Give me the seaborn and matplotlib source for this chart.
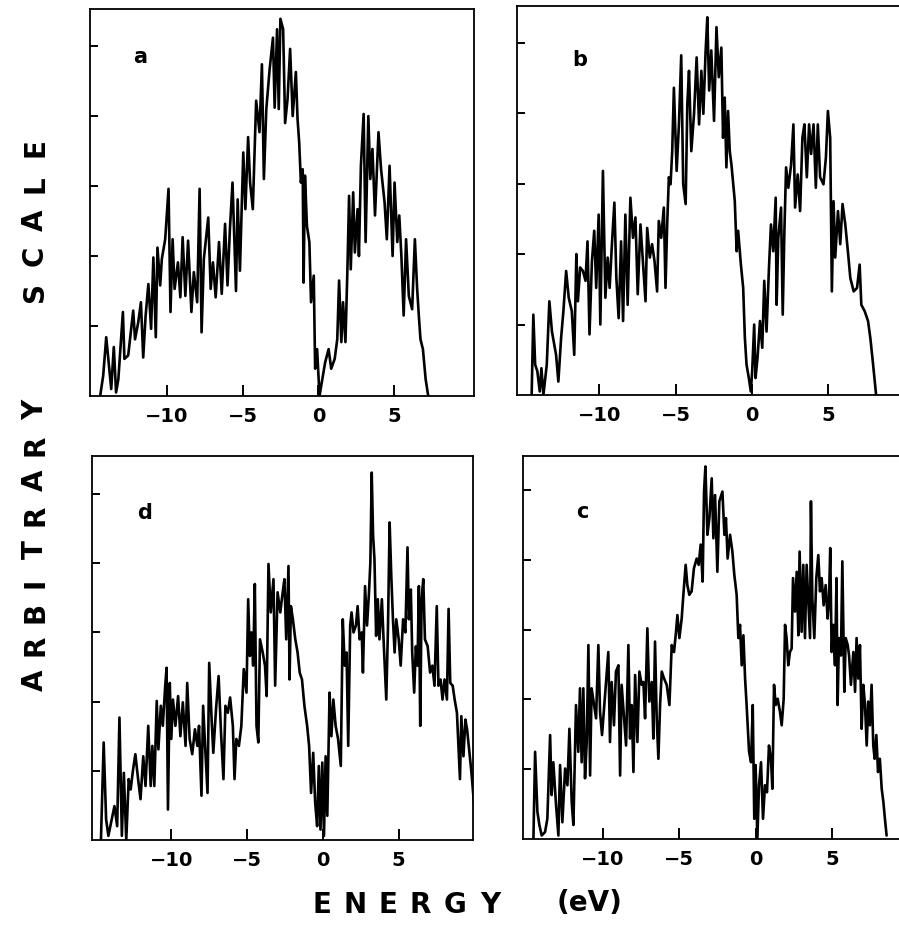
import matplotlib
matplotlib.use("Agg")
import matplotlib.pyplot as plt
import seaborn as sns

sns.set_style("ticks")
plt.rcParams["font.family"] = ["DejaVu Sans"]
plt.rcParams.update({"text.color": "black", "axes.edgecolor": "black",
                     "xtick.color": "black", "ytick.color": "black",
                     "axes.labelcolor": "black"})

# Density of states traces: (energy in eV, intensity in arbitrary units)
trace_a = [(-14.4, 0), (-14.2, 0.29), (-14.0, 0.84), (-13.8, 0.39), (-13.67, 0.1), (-13.5, 0.7),
           (-13.35, 0.05), (-13.2, 0.24), (-12.9, 1.2), (-12.8, 0.53), (-12.55, 0.58), (-12.22, 1.22),
           (-12.1, 0.81), (-11.89, 1.05), (-11.71, 1.34), (-11.56, 0.55), (-11.4, 1.15), (-11.22, 1.6),
           (-11.04, 0.96), (-10.89, 1.98), (-10.73, 0.84), (-10.62, 2.12), (-10.44, 1.58), (-10.33, 1.96),
           (-10.11, 2.24), (-9.89, 2.96), (-9.76, 1.2), (-9.62, 2.24), (-9.49, 1.53), (-9.27, 1.91),
           (-9.11, 1.41), (-8.96, 2.27), (-8.78, 1.43), (-8.6, 2.22), (-8.38, 1.2), (-8.22, 1.77),
           (-8.0, 1.34), (-7.84, 2.96), (-7.71, 0.91), (-7.56, 1.96), (-7.27, 2.55), (-7.11, 1.53),
           (-6.96, 1.91), (-6.78, 1.41), (-6.56, 2.2), (-6.38, 1.46), (-6.16, 2.46), (-6.0, 1.58),
           (-5.84, 2.39), (-5.67, 3.05), (-5.44, 1.5), (-5.33, 2.81), (-5.18, 1.79), (-4.96, 3.48),
           (-4.82, 2.67), (-4.64, 3.7), (-4.51, 3.05), (-4.33, 2.67), (-4.11, 4.22), (-3.89, 3.77),
           (-3.73, 4.74), (-3.6, 3.1), (-3.44, 4.1), (-3.22, 4.67), (-3.0, 5.12), (-2.89, 4.12),
           (-2.73, 5.24), (-2.62, 4.1), (-2.51, 5.39), (-2.33, 5.24), (-2.2, 3.9), (-2.04, 4.24),
           (-1.87, 4.96), (-1.7, 4.0), (-1.49, 4.63), (-1.38, 3.96), (-1.27, 3.62), (-1.16, 3.05),
           (-1.04, 3.24), (-0.98, 1.62), (-0.89, 3.15), (-0.76, 2.43), (-0.6, 2.2), (-0.49, 1.34),
           (-0.31, 1.72), (-0.22, 0.39), (-0.09, 0.67), (0.07, 0), (0.29, 0.29), (0.44, 0.48),
           (0.67, 0.67), (0.84, 0.39), (1.07, 0.53), (1.24, 0.81), (1.36, 1.65), (1.51, 0.77),
           (1.62, 1.34), (1.78, 0.77), (1.91, 1.81), (2.02, 2.86), (2.13, 1.81), (2.29, 2.91),
           (2.4, 2.05), (2.58, 2.67), (2.67, 2.0), (2.8, 3.29), (2.98, 4.03), (3.11, 2.2),
           (3.29, 4.0), (3.42, 3.1), (3.56, 3.53), (3.73, 2.58), (3.96, 3.77), (4.13, 3.24),
           (4.36, 2.77), (4.51, 2.24), (4.69, 3.29), (4.89, 2.0), (5.02, 3.05), (5.2, 2.2),
           (5.33, 2.58), (5.47, 2.0), (5.62, 1.15), (5.78, 2.24), (5.96, 1.43), (6.18, 1.24),
           (6.36, 2.24), (6.51, 1.53), (6.62, 1.15), (6.73, 0.81), (6.89, 0.67), (7.07, 0.24),
           (7.24, 0)]

trace_b = [(-14.43, 0), (-14.32, 1.14), (-14.2, 0.43), (-14.06, 0.34), (-13.9, 0.05), (-13.79, 0.38),
           (-13.66, 0), (-13.44, 0.43), (-13.27, 1.33), (-13.1, 0.9), (-12.83, 0.57), (-12.68, 0.19),
           (-12.5, 0.81), (-12.35, 1.19), (-12.17, 1.76), (-12.0, 1.38), (-11.8, 1.19), (-11.64, 0.57),
           (-11.5, 2.0), (-11.4, 1.33), (-11.25, 1.81), (-11.07, 1.76), (-10.9, 1.62), (-10.77, 2.18),
           (-10.64, 0.86), (-10.48, 1.9), (-10.33, 2.33), (-10.2, 1.52), (-10.04, 2.56), (-9.93, 1.0),
           (-9.76, 3.18), (-9.6, 1.38), (-9.45, 1.95), (-9.32, 1.52), (-9.17, 2.14), (-9.01, 2.73),
           (-8.88, 1.66), (-8.73, 1.09), (-8.57, 2.18), (-8.44, 1.05), (-8.29, 2.56), (-8.14, 1.28),
           (-7.96, 2.8), (-7.79, 2.23), (-7.63, 2.52), (-7.48, 1.43), (-7.3, 2.42), (-7.13, 1.85),
           (-6.97, 1.33), (-6.86, 2.37), (-6.69, 1.95), (-6.54, 2.14), (-6.38, 1.9), (-6.21, 1.47),
           (-6.1, 2.47), (-5.94, 2.23), (-5.77, 2.66), (-5.66, 1.52), (-5.55, 2.42), (-5.44, 3.09),
           (-5.33, 2.99), (-5.22, 3.46), (-5.11, 4.36), (-4.93, 3.18), (-4.78, 3.84), (-4.63, 4.82),
           (-4.5, 2.99), (-4.34, 2.71), (-4.23, 4.13), (-4.12, 4.6), (-3.97, 3.46), (-3.79, 3.99),
           (-3.62, 4.79), (-3.46, 3.84), (-3.31, 4.6), (-3.18, 3.99), (-3.03, 4.89), (-2.92, 5.36),
           (-2.8, 4.32), (-2.66, 4.89), (-2.48, 3.89), (-2.32, 5.22), (-2.17, 4.51), (-2.0, 4.93),
           (-1.89, 3.65), (-1.78, 4.22), (-1.67, 3.23), (-1.56, 4.03), (-1.45, 3.46), (-1.34, 3.27),
           (-1.12, 2.75), (-1.0, 2.04), (-0.9, 2.33), (-0.72, 1.85), (-0.57, 1.52), (-0.46, 0.81),
           (-0.35, 0.43), (-0.2, 0.24), (-0.07, 0.05), (0.02, 0.34), (0.15, 1.0), (0.24, 0.24),
           (0.37, 0.53), (0.53, 1.05), (0.68, 0.67), (0.81, 1.62), (0.96, 0.9), (1.12, 1.81),
           (1.25, 2.42), (1.4, 2.04), (1.56, 2.8), (1.62, 1.28), (1.73, 2.23), (1.91, 2.66),
           (2.02, 1.14), (2.13, 2.33), (2.24, 3.23), (2.39, 2.94), (2.57, 3.27), (2.72, 3.84),
           (2.83, 2.66), (3.0, 3.13), (3.16, 2.61), (3.31, 3.65), (3.44, 3.84), (3.6, 3.09),
           (3.75, 3.84), (3.88, 3.42), (4.04, 3.84), (4.19, 2.94), (4.32, 3.84), (4.47, 3.09),
           (4.69, 2.99), (4.85, 3.37), (4.98, 4.03), (5.13, 3.65), (5.24, 1.47), (5.35, 2.75),
           (5.46, 1.95), (5.64, 2.61), (5.79, 2.14), (5.94, 2.71), (6.12, 2.42), (6.29, 2.04),
           (6.45, 1.66), (6.67, 1.47), (6.89, 1.52), (7.06, 1.85), (7.17, 1.28), (7.39, 1.19),
           (7.61, 1.05), (7.76, 0.81), (7.92, 0.48), (8.05, 0.19), (8.14, 0)]

trace_c = [(-14.52, 0), (-14.41, 1.25), (-14.26, 0.39), (-14.13, 0.2), (-13.98, 0.05), (-13.76, 0.1),
           (-13.61, 0.29), (-13.43, 1.49), (-13.33, 0.63), (-13.22, 1.1), (-13.04, 0.48), (-12.89, 0.05),
           (-12.78, 1.06), (-12.63, 0.24), (-12.45, 1.01), (-12.3, 0.77), (-12.17, 1.58), (-12.02, 0.53),
           (-11.91, 0.2), (-11.74, 1.92), (-11.59, 1.25), (-11.48, 2.16), (-11.37, 1.1), (-11.26, 2.16),
           (-11.15, 0.87), (-11.04, 1.39), (-10.93, 2.78), (-10.82, 0.91), (-10.72, 2.16), (-10.56, 1.92),
           (-10.43, 1.73), (-10.28, 2.78), (-10.17, 1.82), (-10.04, 1.49), (-9.89, 1.92), (-9.74, 2.35),
           (-9.63, 2.68), (-9.52, 1.39), (-9.41, 2.25), (-9.26, 1.63), (-9.13, 2.4), (-8.97, 2.49),
           (-8.86, 0.91), (-8.76, 2.21), (-8.6, 1.73), (-8.47, 1.34), (-8.32, 2.78), (-8.21, 1.44),
           (-8.1, 1.92), (-7.99, 0.96), (-7.88, 2.35), (-7.73, 1.39), (-7.6, 2.4), (-7.45, 2.21),
           (-7.34, 2.25), (-7.23, 1.73), (-7.08, 3.02), (-6.95, 1.97), (-6.79, 2.25), (-6.69, 1.44),
           (-6.58, 2.83), (-6.47, 1.73), (-6.36, 1.15), (-6.25, 1.92), (-6.14, 2.4), (-5.99, 2.3),
           (-5.82, 2.21), (-5.64, 1.92), (-5.49, 2.78), (-5.34, 2.68), (-5.21, 2.97), (-5.12, 3.21),
           (-4.99, 2.88), (-4.84, 3.16), (-4.73, 3.5), (-4.58, 3.93), (-4.47, 3.64), (-4.34, 3.5),
           (-4.19, 3.55), (-4.04, 3.88), (-3.86, 4.02), (-3.73, 3.93), (-3.6, 4.22), (-3.47, 3.69),
           (-3.38, 4.98), (-3.29, 5.34), (-3.16, 4.36), (-3.03, 4.6), (-2.88, 5.17), (-2.77, 4.31),
           (-2.66, 4.93), (-2.51, 3.83), (-2.38, 4.84), (-2.18, 4.98), (-2.05, 4.36), (-1.95, 4.6),
           (-1.84, 4.02), (-1.68, 4.36), (-1.53, 4.12), (-1.4, 3.78), (-1.25, 3.5), (-1.14, 2.88),
           (-1.03, 3.07), (-0.92, 2.49), (-0.81, 2.92), (-0.7, 2.3), (-0.6, 1.92), (-0.44, 1.25),
           (-0.31, 1.1), (-0.2, 1.92), (-0.1, 0.29), (-0.01, 1.06), (0.1, 0), (0.21, 0.77),
           (0.34, 1.1), (0.47, 0.29), (0.6, 0.77), (0.73, 0.67), (0.86, 1.34), (0.99, 1.15),
           (1.08, 0.72), (1.19, 2.21), (1.3, 1.92), (1.43, 2.01), (1.58, 1.82), (1.69, 1.63),
           (1.82, 2.01), (1.91, 3.07), (2.01, 2.88), (2.12, 2.49), (2.23, 2.68), (2.34, 2.73),
           (2.43, 3.74), (2.56, 3.26), (2.67, 3.83), (2.78, 2.92), (2.86, 4.12), (2.99, 2.97),
           (3.1, 3.93), (3.21, 2.88), (3.32, 3.93), (3.43, 3.4), (3.54, 2.88), (3.6, 4.84),
           (3.69, 3.45), (3.82, 2.88), (3.95, 3.74), (4.08, 4.07), (4.19, 3.55), (4.3, 3.74),
           (4.43, 3.35), (4.56, 3.64), (4.69, 3.16), (4.78, 3.45), (4.86, 4.17), (4.95, 2.68),
           (5.06, 3.07), (5.17, 2.49), (5.27, 3.74), (5.34, 1.92), (5.43, 2.88), (5.56, 2.63),
           (5.65, 3.98), (5.78, 2.11), (5.87, 2.88), (6.0, 2.78), (6.09, 2.63), (6.21, 2.21),
           (6.37, 2.68), (6.48, 2.11), (6.58, 2.88), (6.69, 2.3), (6.8, 2.78), (6.91, 1.58),
           (7.02, 2.21), (7.13, 1.92), (7.24, 1.34), (7.34, 1.97), (7.45, 1.63), (7.56, 2.21),
           (7.67, 1.34), (7.76, 1.15), (7.87, 1.49), (7.98, 0.96), (8.1, 1.15), (8.22, 0.72),
           (8.33, 0.53), (8.43, 0.29), (8.54, 0.05)]

trace_d = [(-14.64, 0), (-14.46, 1.41), (-14.3, 0.3), (-14.15, 0.06), (-13.97, 0.25), (-13.75, 0.49),
           (-13.57, 0.2), (-13.42, 1.77), (-13.26, 0.06), (-13.13, 0.97), (-12.97, 0), (-12.81, 0.88),
           (-12.68, 0.73), (-12.52, 1.02), (-12.37, 1.24), (-12.19, 0.88), (-12.03, 0.59), (-11.85, 1.21),
           (-11.7, 0.78), (-11.52, 1.65), (-11.36, 0.78), (-11.25, 1.36), (-11.12, 0.78), (-10.96, 2.01),
           (-10.85, 1.31), (-10.69, 1.94), (-10.56, 1.65), (-10.4, 2.23), (-10.31, 2.49), (-10.22, 0.44),
           (-10.1, 2.27), (-10.0, 1.46), (-9.89, 2.03), (-9.73, 1.65), (-9.55, 2.08), (-9.4, 1.5),
           (-9.24, 1.99), (-9.06, 1.36), (-8.95, 2.27), (-8.79, 1.46), (-8.62, 1.24), (-8.44, 1.6),
           (-8.28, 1.36), (-8.17, 1.65), (-8.01, 0.64), (-7.9, 1.94), (-7.77, 1.36), (-7.61, 0.68),
           (-7.5, 2.56), (-7.34, 1.74), (-7.23, 1.26), (-7.05, 1.89), (-6.88, 2.37), (-6.72, 1.55),
           (-6.56, 0.88), (-6.43, 1.94), (-6.27, 1.84), (-6.12, 2.06), (-5.94, 1.65), (-5.83, 0.88),
           (-5.71, 1.46), (-5.54, 1.36), (-5.38, 1.65), (-5.22, 2.47), (-5.04, 2.13), (-4.93, 3.48),
           (-4.82, 2.66), (-4.71, 3.0), (-4.6, 2.52), (-4.49, 3.7), (-4.38, 1.65), (-4.26, 1.41),
           (-4.15, 2.9), (-3.97, 2.71), (-3.82, 2.52), (-3.71, 2.08), (-3.59, 3.99), (-3.44, 3.29),
           (-3.26, 3.77), (-3.15, 2.23), (-2.99, 3.58), (-2.81, 3.29), (-2.68, 3.53), (-2.54, 3.77),
           (-2.42, 2.9), (-2.27, 3.96), (-2.2, 2.32), (-2.11, 3.38), (-1.98, 3.19), (-1.82, 2.9),
           (-1.67, 2.71), (-1.53, 2.42), (-1.38, 2.32), (-1.22, 1.94), (-1.04, 1.65), (-0.91, 1.36),
           (-0.78, 0.68), (-0.64, 1.26), (-0.51, 0.54), (-0.38, 0.2), (-0.27, 1.07), (-0.16, 0.15),
           (-0.04, 1.12), (0.07, 0.06), (0.18, 1.21), (0.29, 0.35), (0.44, 2.13), (0.56, 1.5),
           (0.69, 2.03), (0.84, 1.65), (1.0, 1.46), (1.18, 1.07), (1.31, 3.19), (1.44, 2.52),
           (1.56, 2.71), (1.67, 1.36), (1.8, 3.1), (1.89, 3.29), (2.02, 3.0), (2.18, 3.1),
           (2.29, 3.38), (2.42, 2.9), (2.56, 3.0), (2.64, 2.42), (2.78, 3.67), (2.91, 3.1),
           (3.04, 3.58), (3.13, 4.01), (3.22, 5.31), (3.31, 4.4), (3.4, 4.06), (3.51, 2.95),
           (3.62, 3.48), (3.73, 2.9), (3.89, 3.48), (4.02, 2.8), (4.18, 2.03), (4.29, 3.05),
           (4.4, 4.59), (4.51, 3.82), (4.62, 3.19), (4.73, 2.71), (4.84, 3.19), (5.0, 2.9),
           (5.13, 2.52), (5.29, 3.19), (5.44, 3.0), (5.58, 4.23), (5.67, 3.19), (5.8, 3.62),
           (5.89, 2.71), (6.02, 2.13), (6.13, 2.8), (6.24, 2.52), (6.33, 3.67), (6.42, 1.65),
           (6.51, 3.48), (6.62, 3.77), (6.73, 2.9), (6.91, 2.8), (7.07, 2.42), (7.22, 2.52),
           (7.36, 2.23), (7.51, 3.38), (7.62, 2.23), (7.76, 2.32), (7.89, 2.03), (8.02, 2.32),
           (8.18, 2.03), (8.29, 3.34), (8.4, 2.27), (8.56, 2.23), (8.69, 2.03), (8.84, 1.84),
           (8.96, 1.26), (9.04, 0.88), (9.13, 1.79), (9.27, 1.21), (9.4, 1.74), (9.51, 1.6),
           (9.62, 1.36), (9.8, 0.97), (9.96, 0.54)]

energy_ticks = [-10, -5, 0, 5]
energy_tick_labels = ["\u221210", "\u22125", "0", "5"]
intensity_ticks = [1, 2, 3, 4, 5]

W, H = 899, 929
fig = plt.figure(figsize=(W / 100, H / 100), dpi=100)

# panel: (trace, letter, pixel box left/right/top/bottom, x-limits, y-top)
panels = [
    (trace_a, "a", (90, 474, 10, 397), (-15.07, 10.26), 5.53),
    (trace_b, "b", (517, 901, 7, 396), (-15.39, 9.77), 5.52),
    (trace_d, "d", (92, 473, 457, 841), (-15.23, 9.90), 5.55),
    (trace_c, "c", (523, 901, 457, 840), (-15.20, 9.48), 5.49),
]
letter_pos = {"a": (0.13, 0.878), "b": (0.164, 0.864), "d": (0.139, 0.854), "c": (0.156, 0.856)}

for trace, letter, (l, r, t, b), xlim, ytop in panels:
    ax = fig.add_axes([l / W, 1 - b / H, (r - l) / W, (b - t) / H])
    energy, dos = map(list, zip(*trace))
    sns.lineplot(x=energy, y=dos, ax=ax, color="black", linewidth=1.9,
                 estimator=None, sort=False)
    ax.set_xlim(*xlim)
    ax.set_ylim(0, ytop)
    ax.set_xticks(energy_ticks)
    ax.set_xticklabels(energy_tick_labels, fontsize=14, fontweight="bold")
    ax.set_yticks(intensity_ticks)
    ax.set_yticklabels([])
    ax.tick_params(axis="x", direction="in", length=8, width=1.4, pad=7)
    ax.tick_params(axis="y", direction="in", length=6, width=1.4)
    for s in ax.spines.values():
        s.set_linewidth(1.3)
        s.set_color("black")
    ax.text(*letter_pos[letter], letter, transform=ax.transAxes, fontsize=15,
            fontweight="bold", ha="center", va="center")

# spaced-out axis captions
def spaced(chars, xs, ys, rot=0, size=20):
    for ch, x, y in zip(chars, xs, ys):
        fig.text(x / W, 1 - y / H, ch, rotation=rot, ha="center", va="center",
                 fontsize=size, fontweight="heavy")

ylab = "ARBITRARY"
spaced(ylab, [35] * len(ylab), [680, 645, 612, 583, 550, 515, 480, 445, 410], rot=90)
slab = "SCALE"
spaced(slab, [35] * len(slab), [292, 256, 220, 184, 148], rot=90)
elab = "ENERGY"
spaced(elab, [322, 355, 388, 420, 455, 490], [905] * len(elab))
fig.text(590 / W, 1 - 903 / H, "(eV)", ha="center", va="center", fontsize=20,
         fontweight="heavy")

fig.savefig("out.png", dpi=100)
